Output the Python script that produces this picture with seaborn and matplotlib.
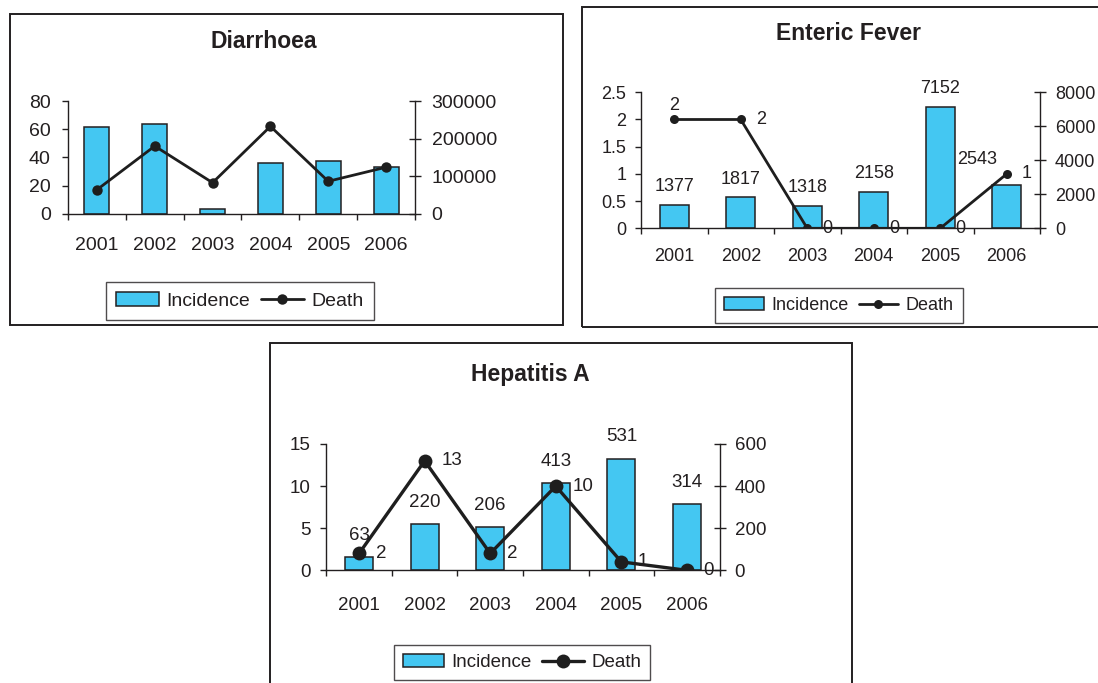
import matplotlib
matplotlib.use('Agg')
import matplotlib.pyplot as plt
import seaborn as sns
import pandas as pd
from matplotlib.patches import Rectangle, Patch
from matplotlib.lines import Line2D
from matplotlib.ticker import FuncFormatter

# ---------------- data ----------------
years = ['2001', '2002', '2003', '2004', '2005', '2006']

diarrhoea_incidence = [232000, 240000, 13000, 134000, 139000, 125000]
diarrhoea_death = [17, 48, 22, 62, 23, 33]

enteric_incidence = [1377, 1817, 1318, 2158, 7152, 2543]
enteric_death = [2, 2, 0, 0, 0, 1]

hepatitis_incidence = [63, 220, 206, 413, 531, 314]
hepatitis_death = [2, 13, 2, 10, 1, 0]

diarrhoea_left_ticks = [0, 20, 40, 60, 80]
diarrhoea_right_ticks = [0, 100000, 200000, 300000]
enteric_left_ticks = [0, 0.5, 1, 1.5, 2, 2.5]
enteric_right_ticks = [0, 2000, 4000, 6000, 8000]
hepatitis_left_ticks = [0, 5, 10, 15]
hepatitis_right_ticks = [0, 200, 400, 600]

# ---------------- style ----------------
sns.set_theme(style='white')
plt.rcParams['font.family'] = ['Liberation Sans', 'DejaVu Sans']

W, H = 1098, 683
fig = plt.figure(figsize=(W / 100, H / 100), dpi=100)

BAR = '#44C7F2'
EDGE = '#231F20'
INK = '#1E1E1E'
TXT = '#231F20'


def fx(px):
    return px / W


def fy(py):
    return 1 - py / H


def frame(x0, y0, x1, y1):
    fig.add_artist(Rectangle((fx(x0), fy(y1)), fx(x1) - fx(x0), fy(y0) - fy(y1),
                             transform=fig.transFigure, fill=False,
                             edgecolor=EDGE, linewidth=1.4, zorder=0))


def fmt_num(v, pos=None):
    return f'{v:g}' if v != int(v) else f'{int(v)}'


def panel(box, title, title_xy, tfs, incidence, death, lticks, rticks, fs,
          ms, lw, xpad, lpad, rpad, leg_xy, handlelen,
          inc_labels=False, inc_offs=None, death_labels=False, death_offs=None):
    x0, x1, ytop, ybot = box
    ax = fig.add_axes([fx(x0), fy(ybot), fx(x1) - fx(x0), fy(ytop) - fy(ybot)])
    ax2 = ax.twinx()
    df = pd.DataFrame({'Year': years, 'Incidence': incidence, 'Death': death})
    sns.barplot(data=df, x='Year', y='Incidence', color=BAR, saturation=1,
                edgecolor=EDGE, linewidth=1.1, width=0.43, ax=ax2)
    sns.pointplot(data=df, x='Year', y='Death', color=INK, markers='o',
                  linestyles='-', markersize=ms, linewidth=lw,
                  markeredgewidth=0, errorbar=None, ax=ax)
    ax.set_zorder(ax2.get_zorder() + 1)
    ax.patch.set_visible(False)

    ax.set_xlim(-0.5, 5.5)
    ax.set_ylim(0, lticks[-1])
    ax2.set_ylim(0, rticks[-1])

    for a in (ax, ax2):
        a.set_xlabel('')
        a.set_ylabel('')
        a.grid(False)
        for s in a.spines.values():
            s.set_color(EDGE)
            s.set_linewidth(1.0)
    ax.spines['top'].set_visible(False)
    ax.spines['right'].set_visible(False)
    ax2.spines['top'].set_visible(False)
    ax2.spines['left'].set_visible(False)
    ax2.spines['bottom'].set_visible(False)

    # x ticks at category boundaries, labels at centres
    ax.set_xticks([i - 0.5 for i in range(len(years) + 1)])
    ax.set_xticklabels([''] * (len(years) + 1))
    ax.set_xticks(range(len(years)), minor=True)
    ax.set_xticklabels(years, minor=True)
    ax.tick_params(axis='x', which='major', bottom=True, direction='out',
                   length=4.5, width=1.0, color=EDGE)
    ax.tick_params(axis='x', which='minor', bottom=True, length=0,
                   pad=xpad, labelsize=fs, labelcolor=TXT)

    ax.set_yticks(lticks)
    ax.yaxis.set_major_formatter(FuncFormatter(fmt_num))
    ax.tick_params(axis='y', left=True, direction='out', length=4.5,
                   width=1.0, color=EDGE, labelsize=fs, labelcolor=TXT, pad=lpad)
    ax2.set_yticks(rticks)
    ax2.yaxis.set_major_formatter(FuncFormatter(fmt_num))
    ax2.tick_params(axis='y', right=True, direction='inout', length=9,
                    width=1.0, color=EDGE, labelsize=fs, labelcolor=TXT, pad=rpad)

    if inc_labels:
        for i, v in enumerate(incidence):
            dx, dy = inc_offs[i]
            ax2.annotate(str(v), (i, v), xytext=(dx, dy),
                         textcoords='offset points', ha='center',
                         va='baseline', fontsize=fs, color=TXT, zorder=10)
    if death_labels:
        for i, v in enumerate(death):
            dx, dy, ha = death_offs[i]
            ax.annotate(str(v), (i, v), xytext=(dx, dy),
                        textcoords='offset points', ha=ha, va='center',
                        fontsize=fs, color=TXT, zorder=10, annotation_clip=False)

    fig.text(fx(title_xy[0]), fy(title_xy[1]), title, ha='center', va='center',
             fontsize=tfs, fontweight='bold', color=TXT)

    handles = [Patch(facecolor=BAR, edgecolor=EDGE, linewidth=1.1, label='Incidence'),
               Line2D([], [], color=INK, marker='o', markersize=ms,
                      markeredgewidth=0, linewidth=lw, label='Death')]
    leg = fig.legend(handles=handles, loc='center',
                     bbox_to_anchor=(fx(leg_xy[0]), fy(leg_xy[1])),
                     ncol=2, frameon=True, fancybox=False, shadow=False,
                     edgecolor=EDGE, fontsize=fs, handlelength=handlelen,
                     handletextpad=0.4, columnspacing=0.55, borderpad=0.5,
                     borderaxespad=0)
    leg.get_frame().set_linewidth(1.0)
    for t in leg.get_texts():
        t.set_color(TXT)
    return ax, ax2


# frames
frame(10, 14, 563, 325)
frame(582, 7, 1110, 327)
frame(270, 343, 852, 700)

# Diarrhoea
panel((68, 415, 101, 213.7), 'Diarrhoea', (264, 42), 16.5,
      diarrhoea_incidence, diarrhoea_death,
      diarrhoea_left_ticks, diarrhoea_right_ticks, fs=14,
      ms=7.5, lw=2.0, xpad=17, lpad=8, rpad=7.5, leg_xy=(240, 301),
      handlelen=2.2)

# Enteric Fever
panel((641, 1040, 92.3, 228.3), 'Enteric Fever', (848, 34), 16.5,
      enteric_incidence, enteric_death,
      enteric_left_ticks, enteric_right_ticks, fs=13,
      ms=6.5, lw=2.0, xpad=14.5, lpad=6, rpad=6.3, leg_xy=(839, 305.5),
      handlelen=2.2,
      inc_labels=True,
      inc_offs=[(0, 10), (0, 10), (0, 10), (0, 10), (0, 10), (-21, 15)],
      death_labels=True,
      death_offs=[(0, 10, 'center'), (11, 0, 'left'), (11, 0, 'left'),
                  (11, 0, 'left'), (11, 0, 'left'), (11, 0, 'left')])

# Hepatitis A
panel((326.3, 719.7, 444, 570.3), 'Hepatitis A', (530, 375), 16.5,
      hepatitis_incidence, hepatitis_death,
      hepatitis_left_ticks, hepatitis_right_ticks, fs=13.5,
      ms=10, lw=2.4, xpad=19, lpad=7, rpad=6.3, leg_xy=(522, 662.5),
      handlelen=2.2,
      inc_labels=True, inc_offs=[(0, 12.5)] * 6,
      death_labels=True,
      death_offs=[(12, 0, 'left')] * 6)

fig.savefig('out.png', dpi=100)
